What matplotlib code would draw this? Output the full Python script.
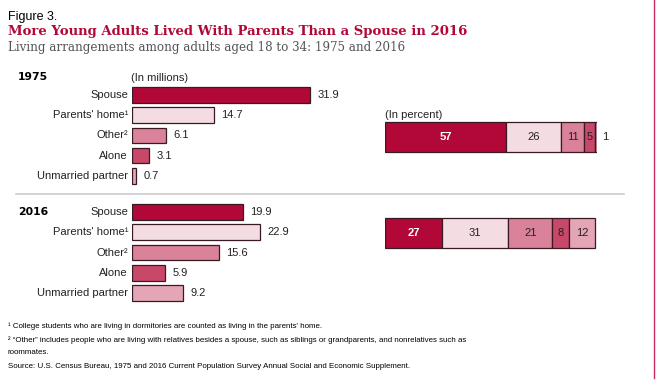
import numpy as np
import matplotlib
matplotlib.use("Agg")
from matplotlib import pyplot as plt

# data
categories = ["Spouse", "Parents' home", "Other", "Alone", "Unmarried partner"]
cat_sup = ["", "\u00b9", "\u00b2", "", ""]
millions_1975 = [31.9, 14.7, 6.1, 3.1, 0.7]
millions_2016 = [19.9, 22.9, 15.6, 5.9, 9.2]
percent_1975 = [57, 26, 11, 5, 1]
percent_2016 = [27, 31, 21, 8, 12]
colors = ["#B20838", "#F4DCE3", "#D9829A", "#C8486A", "#E4A5B6"]

W, H = 656, 383
fig = plt.figure(figsize=(W / 100, H / 100), dpi=100)
fig.patch.set_facecolor("white")

def px_axes(x0, y0, x1, y1):
    # rect given in pixels from top-left
    return fig.add_axes([x0 / W, 1 - y1 / H, (x1 - x0) / W, (y1 - y0) / H])

sans = ["Liberation Sans", "DejaVu Sans"]
serif = "DejaVu Serif"
dark = "#222222"

# header
fig.text(8 / W, 1 - 17 / H, "Figure 3.", fontsize=9, family=sans, color="black", va="center")
fig.text(8 / W, 1 - 32 / H, "More Young Adults Lived With Parents Than a Spouse in 2016",
         fontsize=9.5, family=serif, weight="bold", color="#B20838", va="center")
fig.text(8 / W, 1 - 47 / H, "Living arrangements among adults aged 18 to 34: 1975 and 2016",
         fontsize=8.6, family=serif, color="#555555", va="center")

# left bars (millions)
row = 20.2
gap = 5.8
ypos_1975 = np.arange(5)
ypos_2016 = np.arange(5) + gap
top_px = 95 - 0.5 * row
bot_px = 95 + (gap + 4.5) * row
scale = 178 / 31.9
axl = px_axes(132, top_px, 132 + 40 * scale, bot_px)
axl.set_xlim(0, 40)
axl.set_ylim(gap + 4.5, -0.5)
axl.axis("off")
bh = 0.78
for ypos, vals in [(ypos_1975, millions_1975), (ypos_2016, millions_2016)]:
    axl.barh(ypos, vals, height=bh, color=colors, edgecolor="#3a1a22", linewidth=0.9)
    for y, v, c, s in zip(ypos, vals, categories, cat_sup):
        axl.text(v + 1.3, y, f"{v}", fontsize=8, family=sans, color=dark, va="center", ha="left")
        axl.text(-0.7, y, c + s, fontsize=8, family=sans, color=dark, va="center", ha="right")

# right stacked bars (percent)
axr = px_axes(385, top_px, 385 + 212, bot_px)
axr.set_xlim(0, 100)
axr.set_ylim(gap + 4.5, -0.5)
axr.axis("off")
y75 = (137 - 95) / row
y16 = (233 - 95) / row
sh = 30 / row
for y, vals in [(y75, percent_1975), (y16, percent_2016)]:
    left = 0
    for i, (v, c) in enumerate(zip(vals, colors)):
        axr.barh(y, v, left=left, height=sh, color=c, edgecolor="#3a1a22", linewidth=0.9)
        if v > 2:
            white = i == 0
            axr.text(left + v / 2, y, str(v), fontsize=8, family=sans,
                     color="white" if white else dark, weight="bold" if white else "normal",
                     ha="center", va="center")
        else:
            axr.plot([left + v, left + v + 2.2], [y, y], color=dark, linewidth=0.8)
            axr.text(left + v + 2.4, y, str(v), fontsize=8, family=sans, color=dark,
                     ha="left", va="center")
        left += v

# section labels
fig.text(18 / W, 1 - 77 / H, "1975", fontsize=7.8, family="DejaVu Sans", weight="bold", color="black", va="center")
fig.text(18 / W, 1 - 212 / H, "2016", fontsize=7.8, family="DejaVu Sans", weight="bold", color="black", va="center")
fig.text(131 / W, 1 - 78 / H, "(In millions)", fontsize=8, family=sans, color=dark, va="center")
fig.text(385 / W, 1 - 115 / H, "(In percent)", fontsize=8, family=sans, color=dark, va="center")

# separator and border
fig.add_artist(plt.Line2D([16 / W, 624 / W], [1 - 194 / H, 1 - 194 / H], color="#cccccc", linewidth=1.2))
fig.add_artist(plt.Line2D([654 / W, 654 / W], [1 - 378 / H, 1.0], color="#C8285A", linewidth=1.0))

# footnotes
fs = 5.7
fig.text(8 / W, 1 - 326 / H, "\u00b9 College students who are living in dormitories are counted as living in the parents' home.",
         fontsize=fs, family=sans, color="black", va="center")
fig.text(8 / W, 1 - 340 / H, "\u00b2 \u201cOther\u201d includes people who are living with relatives besides a spouse, such as siblings or grandparents, and nonrelatives such as",
         fontsize=fs, family=sans, color="black", va="center")
fig.text(8 / W, 1 - 353 / H, "roommates.", fontsize=fs, family=sans, color="black", va="center")
fig.text(8 / W, 1 - 366 / H, "Source: U.S. Census Bureau, 1975 and 2016 Current Population Survey Annual Social and Economic Supplement.",
         fontsize=fs, family=sans, color="black", va="center")

fig.savefig("out.png", dpi=100, facecolor="white")
